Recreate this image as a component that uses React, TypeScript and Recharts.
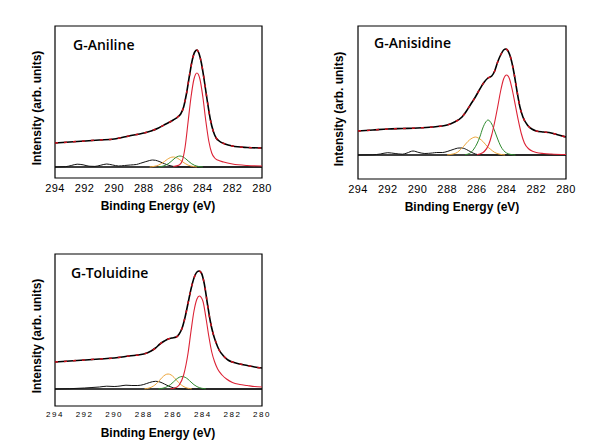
import React from 'react';
import { LineChart, Line, XAxis, YAxis, ReferenceLine, ReferenceArea } from 'recharts';

type P = [number, number];
const pts = (a: P[]) => a.map(([e, v]) => ({ e, v }));

const energyTicks = [294, 292, 290, 288, 286, 284, 282, 280];
const energyDomain: [number, number] = [280, 294];
const panelTitles = ['G-Aniline', 'G-Anisidine', 'G-Toluidine'];
const xTitle = 'Binding Energy (eV)';
const yTitle = 'Intensity (arb. units)';

// ---------- G-Aniline ----------
const anilineEnvelope: P[] = [[294,24],[293,25],[292,26],[291,27],[290,28],[289,31],[288,34],[287.5,36],[287,39],[286.5,43],[286,47],[285.7,50],[285.5,53],[285.3,60],[285.1,74],[284.9,92],[284.7,108],[284.55,115],[284.4,117],[284.25,113],[284.1,104],[283.9,86],[283.7,66],[283.5,48],[283.3,36],[283.1,29],[282.9,26],[282.5,23],[282,21],[281,19.5],[280,19]];
const anilineRed: P[] = [[286,0.5],[285.6,2],[285.4,6],[285.2,20],[285,45],[284.8,70],[284.6,88],[284.4,94],[284.2,88],[284,70],[283.8,46],[283.6,26],[283.4,14],[283.2,9],[283,7],[282.6,5],[282,3],[281,1.5],[280,1]];
const anilineGreen: P[] = [[287,0.1],[286.85,0.4],[286.55,1.6],[286.35,3.2],[286.15,5.5],[285.95,8.1],[285.75,10.2],[285.55,11],[285.35,10.2],[285.15,8.1],[284.95,5.5],[284.75,3.2],[284.55,1.6],[284.25,0.4],[284,0.1]];
const anilineOrange: P[] = [[287.6,0.1],[287.3,0.6],[287,1.9],[286.8,3.5],[286.6,5.5],[286.4,7.7],[286.2,9.4],[286,10],[285.8,9.4],[285.6,7.7],[285.4,5.5],[285.2,3.5],[285,1.9],[284.7,0.6],[284.4,0.1]];
const anilineBlack: P[] = [[294,0],[293.3,0.3],[292.9,1.5],[292.5,2.8],[292.1,2.2],[291.7,0.8],[291.3,0.6],[290.9,1.8],[290.5,3],[290.1,2],[289.7,1],[289.3,1.5],[288.9,2],[288.5,2.5],[288.2,3.8],[287.9,5.2],[287.6,6.5],[287.4,7],[287.2,6.7],[286.9,5.2],[286.6,3.3],[286.3,1.6],[286,0.6],[285.6,0.1],[285,0],[280,0]];

// ---------- G-Anisidine ----------
const anisidineEnvelope: P[] = [[294,24],[293,25],[292,26],[291,26.5],[290,27],[289,28],[288,30],[287.5,33],[287,38],[286.7,44],[286.4,51],[286.1,58],[285.8,66],[285.5,73],[285.25,77],[285,79],[284.8,84],[284.6,93],[284.4,100],[284.2,105],[284.05,106],[283.9,104],[283.7,96],[283.5,82],[283.3,64],[283.1,48],[282.9,38],[282.6,30],[282.3,26],[282,24],[281.5,23],[281,22],[280.5,20],[280,18]];
const anisidineRed: P[] = [[286,0.3],[285.8,1],[285.5,3.5],[285.2,10.5],[285,20],[284.8,33],[284.6,48],[284.4,64],[284.2,76],[284,80],[283.8,76],[283.6,64],[283.4,49],[283.2,34],[283,21],[282.8,12],[282.5,6],[282.2,3.5],[282,2.5],[281.5,1.5],[281,1],[280,0.5]];
const anisidineGreen: P[] = [[286.8,0.3],[286.5,1.5],[286.2,6],[286,11],[285.8,18],[285.6,27],[285.4,33],[285.25,35],[285,31],[284.8,24],[284.6,16],[284.4,9],[284.2,4.5],[284,2],[283.7,0.5],[283.4,0]];
const anisidineOrange: P[] = [[288,0.2],[287.6,1],[287.3,2.8],[287.1,5.5],[286.9,8.5],[286.7,12],[286.5,15],[286.3,17],[286.1,18],[285.9,17],[285.7,15],[285.5,12],[285.3,8.5],[285.1,6],[284.8,2.6],[284.5,0.9],[284.1,0.1]];
const anisidineBlack: P[] = [[294,0],[293,0.2],[292.5,1],[292,2.3],[291.5,1.5],[291,0.8],[290.7,2],[290.3,4],[289.9,2.5],[289.5,1.5],[289,2],[288.7,2.5],[288.3,2.5],[288,3.5],[287.6,5.5],[287.2,7],[287,7],[286.7,5.5],[286.4,3],[286.1,1],[285.8,0.2],[285.4,0],[280,0]];

// ---------- G-Toluidine ----------
const toluidineEnvelope: P[] = [[294,27],[293,28],[292,29],[291,30],[290,31],[289,33],[288,35],[287.5,38],[287.2,41],[286.9,45],[286.6,48],[286.35,50],[286.1,51],[285.8,52],[285.6,55],[285.4,61],[285.2,72],[285,86],[284.8,100],[284.6,111],[284.4,117],[284.25,118],[284.1,116],[283.9,105],[283.7,86],[283.5,68],[283.3,55],[283.1,46],[282.9,39],[282.6,33],[282.3,29],[282,27],[281.5,25],[281,23.5],[280.5,22],[280,21]];
const toluidineRed: P[] = [[286.2,0.3],[285.9,1],[285.6,4],[285.3,14],[285,36],[284.8,58],[284.6,78],[284.4,90],[284.24,93],[284,88],[283.8,72],[283.6,53],[283.4,37],[283.2,27],[283,20],[282.7,14],[282.4,10],[282,6.5],[281.5,4.5],[281,3.5],[280.5,2.5],[280,2]];
const toluidineGreen: P[] = [[287,0.2],[286.7,0.8],[286.4,2.4],[286.2,4.3],[286,6.9],[285.8,9.7],[285.6,11.7],[285.4,12.5],[285.2,11.7],[285,9.7],[284.8,6.9],[284.6,4.3],[284.4,2.4],[284.1,0.8],[283.8,0.2]];
const toluidineOrange: P[] = [[287.95,0.2],[287.65,0.9],[287.35,2.9],[287.15,5.2],[286.95,8.3],[286.75,11.6],[286.55,14.1],[286.35,15],[286.15,14.1],[285.95,11.6],[285.75,8.3],[285.55,5.2],[285.35,2.9],[285.05,0.9],[284.75,0.2]];
const toluidineBlack: P[] = [[294,0],[293,0.3],[292,1],[291.5,1.5],[291,2],[290.5,2.8],[290,2.5],[289.6,3],[289.2,3.8],[288.8,3.5],[288.4,3.5],[288,4.5],[287.6,6.5],[287.2,7.7],[286.9,7],[286.6,5],[286.3,2.8],[286,1.2],[285.7,0.3],[285.3,0],[280,0]];

const RED = '#dc2336';
const GREEN = '#2f8a2f';
const ORANGE = '#eda53a';
const BLACK = '#111111';
const RAW = '#c8101c';
const FONT = '"Liberation Sans", Arial, sans-serif';

interface PanelProps {
  left: number; top: number; width: number; height: number;
  margin: { top: number; right: number; bottom: number; left: number };
  yDomain: [number, number];
  envelope: P[]; red: P[]; green: P[]; orange: P[]; black: P[];
  tickFont: number; tickSpacing: number; tickSize: number;
}

function Panel(p: PanelProps) {
  return (
    <div style={{ position: 'absolute', left: p.left, top: p.top }}>
      <LineChart width={p.width} height={p.height} margin={p.margin}>
        <XAxis type="number" dataKey="e" domain={energyDomain} reversed ticks={energyTicks} interval={0}
          allowDataOverflow axisLine={false} tickLine={false} tickSize={p.tickSize} tickMargin={2} height={30}
          tick={{ fontSize: p.tickFont, fill: '#000', fontFamily: FONT, letterSpacing: p.tickSpacing }} />
        <YAxis type="number" domain={p.yDomain} hide allowDataOverflow />
        <ReferenceArea x1={294} x2={280} y1={p.yDomain[0]} y2={p.yDomain[1]} fill="none" fillOpacity={0}
          stroke="#000" strokeWidth={1.2} ifOverflow="visible" />
        <ReferenceLine y={0} stroke="#000" strokeWidth={1.4} />
        <Line data={pts(p.black)} dataKey="v" type="monotone" stroke={BLACK} strokeWidth={1} dot={false} isAnimationActive={false} />
        <Line data={pts(p.orange)} dataKey="v" type="monotone" stroke={ORANGE} strokeWidth={1} dot={false} isAnimationActive={false} />
        <Line data={pts(p.green)} dataKey="v" type="monotone" stroke={GREEN} strokeWidth={1} dot={false} isAnimationActive={false} />
        <Line data={pts(p.red)} dataKey="v" type="monotone" stroke={RED} strokeWidth={1.1} dot={false} isAnimationActive={false} />
        <Line data={pts(p.envelope)} dataKey="v" type="monotone" stroke="#000" strokeWidth={1.6} dot={false} isAnimationActive={false} />
        <Line data={pts(p.envelope)} dataKey="v" type="monotone" stroke={RAW} strokeWidth={1.5} strokeDasharray="3 6" dot={false} isAnimationActive={false} />
      </LineChart>
    </div>
  );
}

export default function App() {
  return (
    <div style={{ position: 'absolute', left: 0, top: 0, width: 608, height: 443, background: '#fff', overflow: 'hidden' }}>
      <Panel left={0} top={0} width={290} height={220} margin={{ top: 26, left: 55, right: 28, bottom: 12 }}
        yDomain={[-11, 141]} envelope={anilineEnvelope} red={anilineRed} green={anilineGreen} orange={anilineOrange} black={anilineBlack}
        tickFont={11} tickSpacing={0.4} tickSize={4} />
      <Panel left={300} top={0} width={290} height={220} margin={{ top: 26, left: 58, right: 24, bottom: 11 }}
        yDomain={[-24, 129]} envelope={anisidineEnvelope} red={anisidineRed} green={anisidineGreen} orange={anisidineOrange} black={anisidineBlack}
        tickFont={11} tickSpacing={0.4} tickSize={4} />
      <Panel left={0} top={228} width={290} height={215} margin={{ top: 26, left: 55, right: 28, bottom: 7 }}
        yDomain={[-17, 135]} envelope={toluidineEnvelope} red={toluidineRed} green={toluidineGreen} orange={toluidineOrange} black={toluidineBlack}
        tickFont={8} tickSpacing={1.5} tickSize={3} />
      <svg width={608} height={443} style={{ position: 'absolute', left: 0, top: 0, pointerEvents: 'none' }}>
        <g fontFamily='"Open Sans", "Noto Sans", sans-serif' fontWeight={600} fontSize={14} fill="#000">
          <text x={73} y={50}>{panelTitles[0]}</text>
          <text x={374} y={48}>{panelTitles[1]}</text>
          <text x={71} y={278}>{panelTitles[2]}</text>
        </g>
        <g fontFamily={FONT} fontWeight={700} fontSize={12} fill="#000" textAnchor="middle">
          <text x={158} y={210}>{xTitle}</text>
          <text x={462} y={211}>{xTitle}</text>
          <text x={158} y={437}>{xTitle}</text>
          <text x={41} y={108} transform="rotate(-90 41 108)">{yTitle}</text>
          <text x={343} y={109} transform="rotate(-90 343 109)">{yTitle}</text>
          <text x={41} y={336} transform="rotate(-90 41 336)">{yTitle}</text>
        </g>
      </svg>
    </div>
  );
}
